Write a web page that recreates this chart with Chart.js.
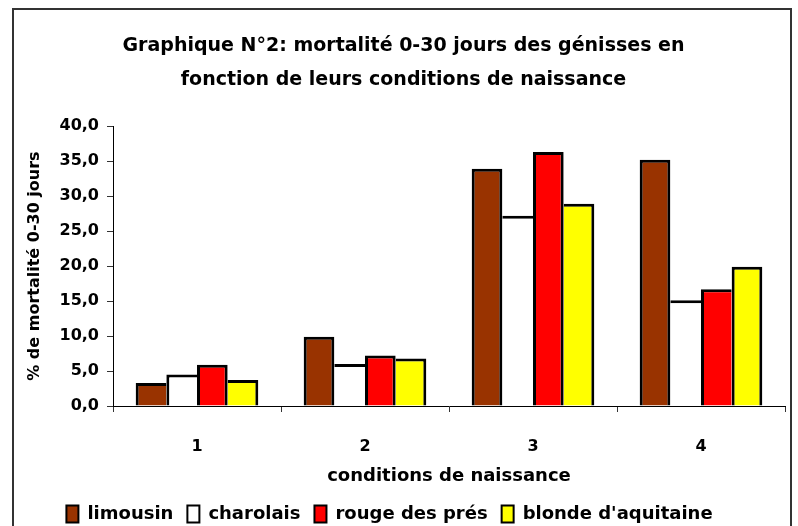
<!DOCTYPE html>
<html>
<head>
<meta charset="utf-8">
<script src="https://cdn.jsdelivr.net/npm/chart.js@4.4.1/dist/chart.umd.min.js"></script>
<style>
  html, body { margin: 0; padding: 0; background: #fff; overflow: hidden; }
  #frame { position: absolute; left: 12px; top: 8px; width: 776px; height: 540px; border: 2px solid #333; }
  #chart { position: absolute; left: 0; top: 0; }
</style>
</head>
<body>
<div id="frame"></div>
<canvas id="chart" width="798" height="526"></canvas>
<script>
  // Données
  const categories = ['1', '2', '3', '4'];
  const limousin = [3.3, 9.9, 33.9, 35.2];
  const charolais = [4.5, 6.0, 27.2, 15.1];
  const rougeDesPres = [5.9, 7.2, 36.3, 16.7];
  const blondeAquitaine = [3.7, 6.8, 28.9, 19.9];

  const titleLines = ['Graphique N°2: mortalité 0-30 jours des génisses en', 'fonction de leurs conditions de naissance'];
  const yTitle = '% de mortalité 0-30 jours';
  const xTitle = 'conditions de naissance';

  const FONT = "'DejaVu Sans', sans-serif";
  const fmt = (v) => v.toFixed(1).replace('.', ',');
  const BW = 3;

  // bordure commune entre deux barres voisines : tracée une seule fois, par la plus haute
  function barBorder(c) {
    const sets = c.chart.data.datasets;
    const i = c.datasetIndex, j = c.dataIndex;
    const v = sets[i].data[j];
    const prev = i > 0 ? sets[i - 1].data[j] : null;
    const next = i < sets.length - 1 ? sets[i + 1].data[j] : null;
    return {
      top: BW,
      bottom: 0,
      left: (prev === null || v >= prev) ? BW : 0,
      right: (next === null || v > next) ? BW : 0
    };
  }

  const ds = (label, data, color) => ({
    label, data,
    backgroundColor: color,
    borderColor: '#000',
    borderWidth: barBorder,
    borderSkipped: false,
    inflateAmount: 0,
    categoryPercentage: 0.73,
    barPercentage: 1.0
  });

  // petit décalage de la légende vers la gauche, comme sur l'original
  const shiftLegend = {
    id: 'shiftLegend',
    afterLayout(c) {
      c.legend.left -= 14;
      c.legend.right -= 14;
    }
  };

  const ctx = document.getElementById('chart');
  const chart = new Chart(ctx, {
    type: 'bar',
    data: {
      labels: categories,
      datasets: [
        ds('limousin', limousin, '#993300'),
        ds('charolais', charolais, '#ffffff'),
        ds('rouge des prés', rougeDesPres, '#ff0000'),
        ds("blonde d'aquitaine", blondeAquitaine, '#ffff00')
      ]
    },
    plugins: [shiftLegend],
    options: {
      responsive: false,
      animation: false,
      devicePixelRatio: 1,
      layout: { padding: { left: 22, right: 13, top: 0, bottom: -7 } },
      scales: {
        x: {
          grid: { offset: true, drawOnChartArea: false, drawTicks: true, tickLength: 6, color: '#333' },
          border: { color: '#000', width: 1 },
          ticks: { color: '#000', font: { family: FONT, size: 16, weight: 'bold' }, padding: 25 },
          title: { display: true, text: xTitle, color: '#000', font: { family: FONT, size: 18, weight: 'bold' }, padding: { top: 0, bottom: 4 } },
          afterFit: (s) => { s.height = 85; }
        },
        y: {
          min: 0, max: 40,
          grid: { drawOnChartArea: false, drawTicks: true, tickLength: 6, color: '#333' },
          border: { color: '#000', width: 1 },
          ticks: { stepSize: 5, color: '#000', padding: 8, font: { family: FONT, size: 16, weight: 'bold' }, callback: (v) => fmt(v) },
          title: { display: true, text: yTitle, color: '#000', font: { family: FONT, size: 16, weight: 'bold' }, padding: { top: 3, bottom: 0 } },
          afterFit: (s) => { s.width = 91; }
        }
      },
      plugins: {
        title: {
          display: true,
          text: titleLines,
          color: '#000',
          font: { family: FONT, size: 19, weight: 'bold', lineHeight: 1.74 },
          padding: { top: 30, bottom: 30 }
        },
        legend: {
          position: 'bottom',
          labels: {
            color: '#000',
            boxWidth: 12,
            boxHeight: 17,
            padding: 14,
            font: { family: FONT, size: 18, weight: 'bold' },
            generateLabels: (c) => c.data.datasets.map((d, i) => ({
              text: d.label,
              fillStyle: d.backgroundColor,
              strokeStyle: '#000',
              lineWidth: 2,
              datasetIndex: i
            }))
          }
        },
        tooltip: { enabled: false }
      }
    }
  });
</script>
</body>
</html>
